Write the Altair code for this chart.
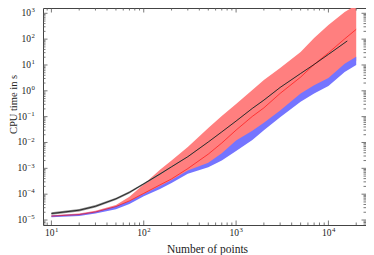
import math
import altair as alt
import pandas as pd

# ---- data (log10 of CPU time in s) ----
xs = [10, 20, 30, 50, 70, 100, 150, 200, 300, 500, 700, 1000, 1500, 2000,
      3000, 5000, 7000, 10000, 15000, 20000]
red_mid = [-4.85, -4.79, -4.69, -4.48, -4.26, -3.97, -3.64, -3.41, -3.01, -2.45,
           -2.02, -1.52, -0.99, -0.66, -0.10, 0.53, 1.02, 1.47, 2.01, 2.38]
red_hi = [-4.82, -4.75, -4.64, -4.42, -4.10, -3.62, -3.05, -2.70, -2.17, -1.44,
          -0.97, -0.51, 0.03, 0.42, 0.88, 1.50, 2.04, 2.55, 3.05, 3.32]
blue_hi = [-4.83, -4.77, -4.67, -4.47, -4.27, -3.99, -3.68, -3.45, -3.08, -2.78,
           -2.42, -1.92, -1.55, -1.24, -0.76, -0.10, 0.22, 0.50, 1.05, 1.32]
blue_lo = [-4.89, -4.84, -4.75, -4.58, -4.38, -4.08, -3.80, -3.57, -3.21, -2.96,
           -2.70, -2.33, -1.90, -1.53, -1.02, -0.42, -0.10, 0.19, 0.73, 1.00]
red_lo = [-4.86, -4.81, -4.71, -4.52, -4.32, -4.03, -3.74, -3.51, -3.14, -2.87,
          -2.56, -2.15, -1.72, -1.38, -0.89, -0.26, 0.06, 0.35, 0.89, 1.16]

black_x = [10, 20, 30, 50, 70, 100, 150, 200, 300, 500, 700, 1000, 1500, 2000,
           3000, 5000, 7000, 10000, 16000]
black_mid = [-4.75, -4.62, -4.47, -4.18, -3.93, -3.60, -3.22, -2.94, -2.55, -1.98,
             -1.59, -1.17, -0.68, -0.36, 0.13, 0.67, 1.02, 1.41, 1.93]
black_hi = [-4.70, -4.57, -4.42, -4.135, -3.89, -3.565, -3.19, -2.92, -2.535, -1.97,
            -1.58, -1.16, -0.67, -0.35, 0.14, 0.68, 1.03, 1.42, 1.94]
black_lo = [-4.80, -4.67, -4.52, -4.225, -3.97, -3.635, -3.25, -2.96, -2.565, -1.99,
            -1.60, -1.18, -0.69, -0.37, 0.12, 0.66, 1.01, 1.40, 1.92]

y_major = [-5, -4, -3, -2, -1, 0, 1, 2, 3]
x_major = [1, 2, 3, 4]

# ---- layout ----
W, H = 323, 217
LX, HX = 0.909, 4.407
LY, HY = -5.193, 3.205
FONT = "Liberation Serif"
TXT = "#222222"
TICK_COLOR = "#555555"

xscale = alt.Scale(type="log", domain=[10 ** LX, 10 ** HX], nice=False)
yscale = alt.Scale(type="log", domain=[10 ** LY, 10 ** HY], nice=False)

xaxis = alt.Axis(values=[10 ** e for e in x_major], labels=False, ticks=False,
                 domain=False, grid=False,
                 title="Number of points", titleFont=FONT, titleFontSize=11.5,
                 titleFontWeight="normal", titleColor=TXT, titleX=164,
                 titleY=27, titleBaseline="alphabetic", titleAlign="center")
yaxis = alt.Axis(values=[10 ** e for e in y_major], labels=False, ticks=False,
                 domain=False, grid=False,
                 title="CPU time in s", titleFont=FONT, titleFontSize=10.5,
                 titleFontWeight="normal", titleColor=TXT, titleX=-30,
                 titleY=96, titleAngle=-90, titleAlign="center",
                 titleBaseline="middle")

main = pd.DataFrame({
    "x": xs,
    "red_mid": [10 ** v for v in red_mid],
    "red_hi": [10 ** v for v in red_hi],
    "red_lo": [10 ** v for v in red_lo],
    "blue_hi": [10 ** v for v in blue_hi],
    "blue_lo": [10 ** v for v in blue_lo],
})
black = pd.DataFrame({
    "x": black_x,
    "mid": [10 ** v for v in black_mid],
    "hi": [10 ** v for v in black_hi],
    "lo": [10 ** v for v in black_lo],
})

X = alt.X("x:Q", scale=xscale, axis=xaxis)


def Y(field):
    return alt.Y(field, scale=yscale, axis=yaxis)


red_band = alt.Chart(main).mark_area(color="#ff7f7f", opacity=1, clip=True).encode(
    x=X, y=Y("red_lo:Q"), y2="red_hi:Q")
blue_band = alt.Chart(main).mark_area(color="#7474ff", opacity=1, clip=True).encode(
    x=X, y=Y("blue_lo:Q"), y2="blue_hi:Q")
gray_band = alt.Chart(black).mark_area(color="#8a8a8a", opacity=1, clip=True).encode(
    x=X, y=Y("lo:Q"), y2="hi:Q")
red_line = alt.Chart(main).mark_line(color="#ff0000", strokeWidth=0.6, clip=True).encode(
    x=X, y=Y("red_mid:Q"))
black_line = alt.Chart(black).mark_line(color="#111111", strokeWidth=0.8, clip=True).encode(
    x=X, y=Y("mid:Q"))

# ---- inward ticks on all four sides ----
ymaj = [10 ** e for e in y_major]
ymin = [m * 10 ** e for e in range(-6, 4) for m in range(2, 10)
        if LY < e + math.log10(m) < HY]
xmaj = [10 ** e for e in x_major]
xmin = [m * 10 ** e for e in range(0, 5) for m in range(2, 10)
        if LX < e + math.log10(m) < HX]


def yticks(vals, length):
    d = pd.DataFrame({"v": vals})
    base = alt.Chart(d).mark_rule(color=TICK_COLOR, strokeWidth=0.8)
    left = base.encode(y=Y("v:Q"), x=alt.value(0), x2=alt.value(length))
    right = base.encode(y=Y("v:Q"), x=alt.value(W - length), x2=alt.value(W))
    return [left, right]


def xticks(vals, length):
    d = pd.DataFrame({"v": vals})
    base = alt.Chart(d).mark_rule(color=TICK_COLOR, strokeWidth=0.8)
    bottom = base.encode(x=alt.X("v:Q", scale=xscale, axis=xaxis),
                         y=alt.value(H - length), y2=alt.value(H))
    top = base.encode(x=alt.X("v:Q", scale=xscale, axis=xaxis),
                      y=alt.value(0), y2=alt.value(length))
    return [bottom, top]


# ---- tick labels 10^e : base "10" plus a raised exponent ----
def ylabels(exps, base_right):
    d = pd.DataFrame({"v": [10 ** e for e in exps],
                      "exp": [("−%d" % -e) if e < 0 else str(e) for e in exps]})
    base = alt.Chart(d).mark_text(align="right", baseline="middle", font=FONT,
                                  fontSize=9.5, color=TXT).encode(
        y=Y("v:Q"), x=alt.value(base_right), text=alt.value("10"))
    sup = alt.Chart(d).mark_text(align="left", baseline="middle", font=FONT,
                                 fontSize=6.8, color=TXT, dy=-2.8).encode(
        y=Y("v:Q"), x=alt.value(base_right + 0.5), text="exp:N")
    return [base, sup]


def xlabels(exps):
    d = pd.DataFrame({"v": [10 ** e for e in exps], "exp": [str(e) for e in exps]})
    base = alt.Chart(d).mark_text(align="right", baseline="alphabetic", font=FONT,
                                  fontSize=9.5, color=TXT, dx=3).encode(
        x=alt.X("v:Q", scale=xscale, axis=xaxis), y=alt.value(H + 10.5),
        text=alt.value("10"))
    sup = alt.Chart(d).mark_text(align="left", baseline="alphabetic", font=FONT,
                                 fontSize=6.8, color=TXT, dx=3.5).encode(
        x=alt.X("v:Q", scale=xscale, axis=xaxis), y=alt.value(H + 6.5),
        text="exp:N")
    return [base, sup]


layers = [red_band, blue_band, gray_band, red_line, black_line]
layers += yticks(ymaj, 4.5) + yticks(ymin, 2.5) + xticks(xmaj, 4.5) + xticks(xmin, 2.5)
layers += ylabels([e for e in y_major if e < 0], -16)
layers += ylabels([e for e in y_major if e >= 0], -12)
layers += xlabels(x_major)

chart = alt.layer(*layers).properties(
    width=W, height=H,
    autosize=alt.AutoSizeParams(type="none"),
    padding={"left": 35, "top": 0, "right": 0, "bottom": 30},
    background="white",
).configure_view(stroke="#444444", strokeWidth=1)

chart.save("out.html", embed_options={"renderer": "svg", "actions": False})
